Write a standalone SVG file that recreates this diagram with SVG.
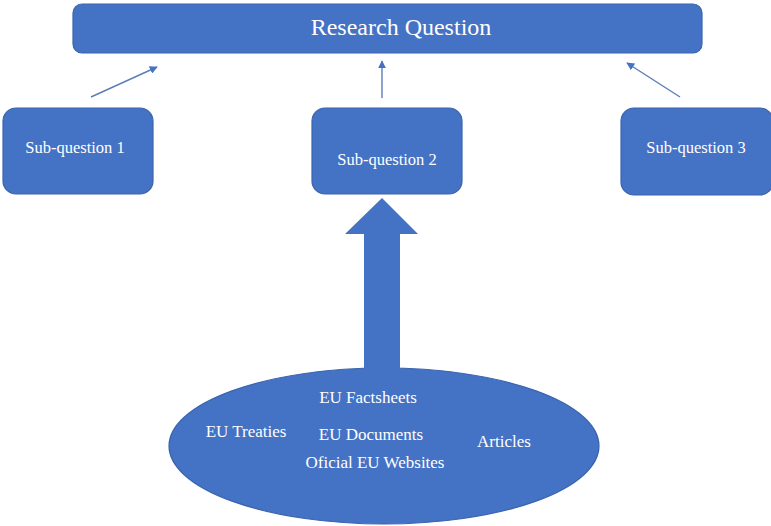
<svg xmlns="http://www.w3.org/2000/svg" width="771" height="526" viewBox="0 0 771 526">
<defs>
<style>
.shape{fill:#4472C4;stroke:#3A64AE;stroke-width:1.2}
.t{fill:#FFFFFF;text-anchor:middle}
.sq{font-size:16.5px}
.et{font-size:17px}
.conn{stroke:#5B7DB8;stroke-width:1.4;fill:none}
</style>
<marker id="ah" viewBox="0 0 10 10" refX="9" refY="5" markerWidth="8" markerHeight="8" markerUnits="userSpaceOnUse" orient="auto">
<path d="M0,0 L10,5 L0,10 z" fill="#4472C4"/>
</marker>
</defs>
<rect width="771" height="526" fill="#FFFFFF"/>
<g font-family="'Liberation Serif', 'DejaVu Serif', serif">
<g id="research-question">
<rect class="shape" x="73" y="4" width="629" height="49" rx="9"/>
<text class="t" x="401" y="35" font-size="24">Research Question</text>
</g>
<g id="sub-question-1">
<rect class="shape" x="3" y="108" width="150" height="86" rx="13"/>
<text class="t sq" x="75" y="153">Sub-question 1</text>
</g>
<g id="sub-question-2">
<rect class="shape" x="312" y="108" width="150" height="86" rx="13"/>
<text class="t sq" x="387" y="165">Sub-question 2</text>
</g>
<g id="sub-question-3">
<rect class="shape" x="621" y="108" width="152" height="87" rx="13"/>
<text class="t sq" x="696" y="153">Sub-question 3</text>
</g>
<g id="sources">
<ellipse class="shape" cx="384" cy="446" rx="215" ry="78"/>
<text class="t et" x="368" y="403">EU Factsheets</text>
<text class="t et" x="246" y="437">EU Treaties</text>
<text class="t et" x="371" y="440">EU Documents</text>
<text class="t et" x="504" y="447">Articles</text>
<text class="t et" x="375" y="468">Oficial EU Websites</text>
</g>
</g>
<g id="connectors">
<line class="conn" x1="91" y1="97" x2="157" y2="67" marker-end="url(#ah)"/>
<line class="conn" x1="382" y1="98" x2="382" y2="61" marker-end="url(#ah)"/>
<line class="conn" x1="680" y1="97" x2="627" y2="63" marker-end="url(#ah)"/>
<path d="M364,369 L364,234 L345,234 L382,198 L418,234 L400,234 L400,369 Z" fill="#4472C4"/>
</g>
</svg>
